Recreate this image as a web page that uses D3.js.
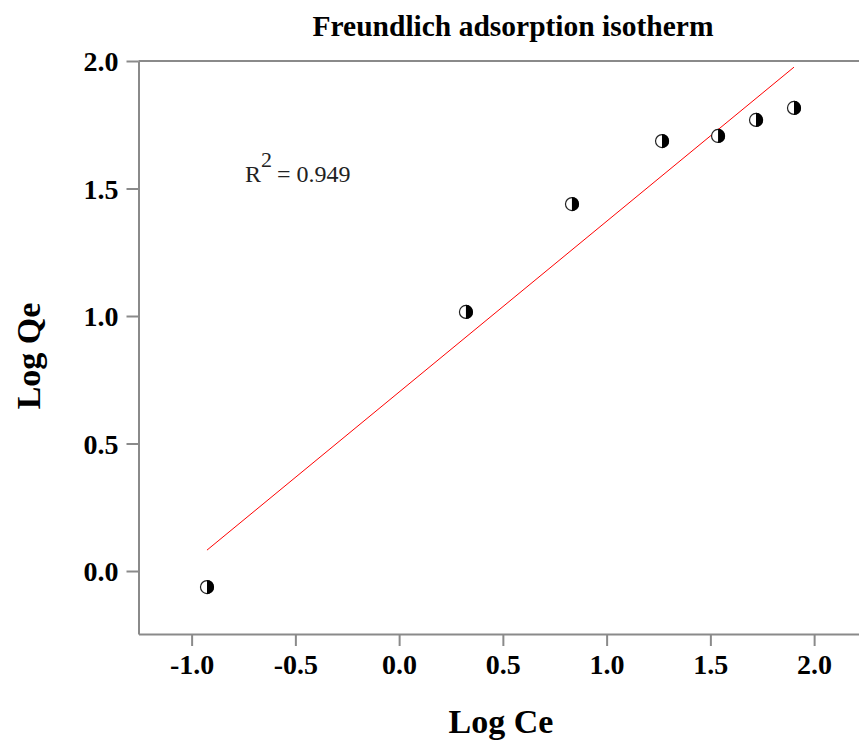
<!DOCTYPE html>
<html>
<head>
<meta charset="utf-8">
<script src="https://cdn.jsdelivr.net/npm/d3@7"></script>
<style>
  html, body { margin: 0; padding: 0; background: #fff; }
  svg { display: block; }
</style>
</head>
<body>
<svg id="chart" width="859" height="742"></svg>
<script>
// Freundlich isotherm data: log Ce vs log Qe
const logCe = [-0.926, 0.322, 0.833, 1.267, 1.537, 1.720, 1.903];
const logQe = [-0.063, 1.016, 1.439, 1.686, 1.706, 1.769, 1.816];
const xTicks = [-1.0, -0.5, 0.0, 0.5, 1.0, 1.5, 2.0];
const yTicks = [0.0, 0.5, 1.0, 1.5, 2.0];
const rSquared = "0.949";

const svg = d3.select("#chart");
const serif = "'Liberation Serif', 'Times New Roman', serif";
const axisColor = "#8a8a8a";

const plotLeft = 138.5, plotBottom = 634, plotTop = 61;
const x = d3.scaleLinear().domain([-1.256, 2.25]).range([plotLeft, plotLeft + 3.506 * 207.5]);
const y = d3.scaleLinear().domain([-0.247, 2.0]).range([plotBottom, plotTop]);

const fmt = v => d3.format(".1f")(v).replace("\u2212", "-");

// least-squares fit of log Qe on log Ce
const mx = d3.mean(logCe), my = d3.mean(logQe);
const sxy = d3.sum(logCe, (v, i) => (v - mx) * (logQe[i] - my));
const sxx = d3.sum(logCe, v => (v - mx) * (v - mx));
const slope = sxy / sxx, intercept = my - slope * mx;
const [xmin, xmax] = d3.extent(logCe);

// top frame line
svg.append("line")
  .attr("x1", plotLeft).attr("x2", 859)
  .attr("y1", y(2.0)).attr("y2", y(2.0))
  .attr("stroke", axisColor).attr("stroke-width", 2);

// x axis
const gx = svg.append("g")
  .attr("transform", `translate(0,${plotBottom})`)
  .call(d3.axisBottom(x).tickValues(xTicks).tickFormat(fmt).tickSize(12).tickSizeOuter(0).tickPadding(8));
// y axis
const gy = svg.append("g")
  .attr("transform", `translate(${plotLeft},0)`)
  .call(d3.axisLeft(y).tickValues(yTicks).tickFormat(fmt).tickSize(12).tickSizeOuter(0).tickPadding(8));

[gx, gy].forEach(g => {
  g.select(".domain").attr("stroke", axisColor).attr("stroke-width", 2);
  g.selectAll(".tick line").attr("stroke", axisColor).attr("stroke-width", 2);
  g.selectAll(".tick text")
    .attr("fill", "#000")
    .style("font-family", serif)
    .style("font-weight", "bold")
    .style("font-size", "28px");
});
gy.selectAll(".tick text").attr("dy", "0.34em");

// regression line
svg.append("line")
  .attr("x1", x(xmin)).attr("y1", y(intercept + slope * xmin))
  .attr("x2", x(xmax)).attr("y2", y(intercept + slope * xmax))
  .attr("stroke", "#ff0000").attr("stroke-width", 1);

// half-filled circle markers
const r = 6.5;
const pts = svg.append("g").selectAll("g")
  .data(logCe.map((v, i) => [v, logQe[i]]))
  .join("g")
  .attr("transform", d => `translate(${x(d[0])},${y(d[1])})`);
pts.append("circle").attr("r", r).attr("fill", "#fff").attr("stroke", "#222").attr("stroke-width", 1.2);
pts.append("path")
  .attr("d", d3.arc()({ innerRadius: 0, outerRadius: r + 0.6, startAngle: 0, endAngle: Math.PI }))
  .attr("fill", "#000");

// R² annotation
const rt = svg.append("text")
  .attr("x", 245).attr("y", 182)
  .style("font-family", serif).style("font-size", "24px").attr("fill", "#222");
rt.append("tspan").text("R");
rt.append("tspan").attr("dy", -15).style("font-size", "22px").text("2");
rt.append("tspan").attr("dy", 15).attr("dx", 5).text("= " + rSquared);

// title
svg.append("text")
  .attr("x", 513).attr("y", 36)
  .attr("text-anchor", "middle")
  .style("font-family", serif).style("font-weight", "bold").style("font-size", "29.5px")
  .text("Freundlich adsorption isotherm");

// axis titles
svg.append("text")
  .attr("x", 501).attr("y", 733)
  .attr("text-anchor", "middle")
  .style("font-family", serif).style("font-weight", "bold").style("font-size", "34px")
  .text("Log Ce");
svg.append("text")
  .attr("transform", "translate(40,356) rotate(-90)")
  .attr("text-anchor", "middle")
  .style("font-family", serif).style("font-weight", "bold").style("font-size", "34px")
  .text("Log Qe");
</script>
</body>
</html>
